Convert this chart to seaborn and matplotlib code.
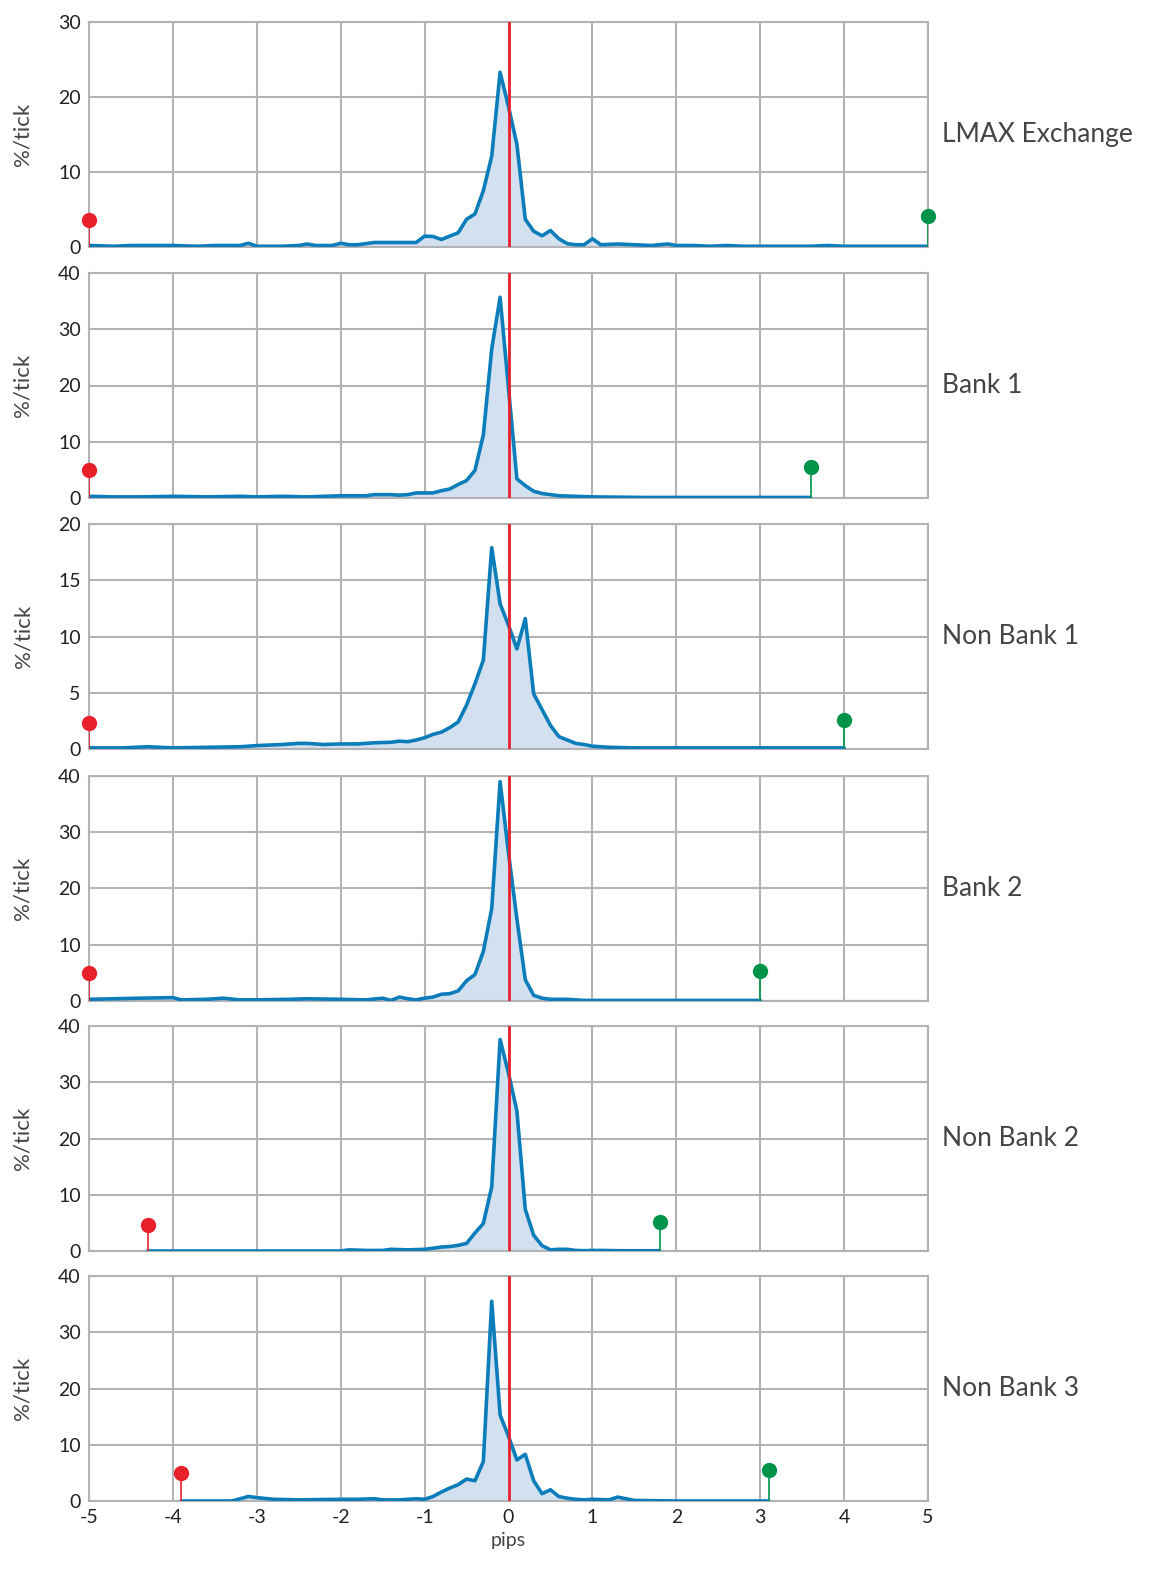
import numpy as np
import pandas as pd
import seaborn as sns
import matplotlib.pyplot as plt

sns.set_theme(style="white")
plt.rcParams['font.family'] = ['Lato', 'DejaVu Sans']
plt.rcParams['axes.unicode_minus'] = False

names = ["LMAX Exchange", "Bank 1", "Non Bank 1", "Bank 2", "Non Bank 2", "Non Bank 3"]
ymax = [30, 40, 20, 40, 40, 40]
ystep = [10, 10, 5, 10, 10, 10]

lmax_x = [-5, -4.7, -4.5, -4.2, -4, -3.7, -3.5, -3.2, -3.1, -3, -2.7, -2.5, -2.4, -2.3, -2.1, -2, -1.9, -1.8, -1.6, -1.4, -1.2, -1.1, -1.0, -0.9, -0.8, -0.7, -0.6, -0.5, -0.4, -0.3, -0.2, -0.1, 0, 0.1, 0.2, 0.3, 0.4, 0.5, 0.6, 0.7, 0.8, 0.9, 1.0, 1.1, 1.3, 1.5, 1.7, 1.9, 2.0, 2.2, 2.4, 2.6, 2.8, 3.0, 3.3, 3.6, 3.8, 4.0, 4.3, 4.6, 5.0]
lmax_y = [0.2, 0.1, 0.2, 0.2, 0.2, 0.1, 0.2, 0.2, 0.5, 0.1, 0.1, 0.2, 0.4, 0.2, 0.2, 0.5, 0.3, 0.3, 0.6, 0.6, 0.6, 0.6, 1.45, 1.4, 1.0, 1.45, 1.9, 3.7, 4.4, 7.5, 12.1, 23.3, 18.7, 13.7, 3.7, 2.1, 1.5, 2.2, 1.1, 0.45, 0.3, 0.3, 1.1, 0.3, 0.4, 0.3, 0.2, 0.4, 0.2, 0.2, 0.1, 0.2, 0.1, 0.1, 0.1, 0.1, 0.2, 0.1, 0.1, 0.1, 0.1]

b1_x = [-5, -4.7, -4.4, -4, -3.6, -3.2, -3.0, -2.7, -2.4, -2.0, -1.7, -1.6, -1.4, -1.3, -1.2, -1.1, -1.0, -0.9, -0.8, -0.7, -0.6, -0.5, -0.4, -0.3, -0.2, -0.1, 0, 0.1, 0.2, 0.3, 0.4, 0.5, 0.6, 0.8, 1.0, 1.3, 1.6, 2.0, 2.5, 3.0, 3.6]
b1_y = [0.3, 0.2, 0.2, 0.3, 0.2, 0.3, 0.2, 0.3, 0.2, 0.4, 0.4, 0.6, 0.6, 0.5, 0.6, 0.9, 0.9, 0.9, 1.3, 1.6, 2.4, 3.1, 4.9, 11.2, 26.5, 35.7, 19.5, 3.4, 2.2, 1.2, 0.8, 0.6, 0.4, 0.3, 0.2, 0.15, 0.1, 0.1, 0.1, 0.1, 0.1]

nb1_x = [-5, -4.6, -4.3, -4.0, -3.6, -3.2, -3.0, -2.7, -2.5, -2.4, -2.2, -2.0, -1.8, -1.6, -1.4, -1.3, -1.2, -1.1, -1.0, -0.9, -0.8, -0.7, -0.6, -0.5, -0.4, -0.3, -0.2, -0.1, 0, 0.1, 0.2, 0.3, 0.4, 0.5, 0.6, 0.7, 0.8, 0.9, 1.0, 1.2, 1.5, 2.0, 2.5, 3.0, 3.5, 4.0]
nb1_y = [0.1, 0.1, 0.2, 0.1, 0.15, 0.2, 0.3, 0.4, 0.5, 0.5, 0.4, 0.45, 0.45, 0.55, 0.6, 0.7, 0.65, 0.8, 1.0, 1.3, 1.5, 1.9, 2.4, 3.9, 5.8, 7.9, 17.9, 12.9, 11.0, 8.9, 11.6, 4.9, 3.5, 2.1, 1.1, 0.8, 0.5, 0.4, 0.25, 0.15, 0.1, 0.1, 0.1, 0.1, 0.1, 0.1]

b2_x = [-5, -4.7, -4.4, -4.0, -3.9, -3.6, -3.4, -3.2, -3.0, -2.6, -2.4, -2.0, -1.7, -1.5, -1.4, -1.3, -1.2, -1.1, -1.0, -0.9, -0.8, -0.7, -0.6, -0.5, -0.4, -0.3, -0.2, -0.1, 0, 0.1, 0.2, 0.3, 0.4, 0.5, 0.7, 0.9, 1.2, 1.6, 2.0, 2.5, 3.0]
b2_y = [0.3, 0.4, 0.5, 0.6, 0.2, 0.3, 0.5, 0.2, 0.2, 0.3, 0.4, 0.3, 0.2, 0.5, 0.1, 0.7, 0.4, 0.2, 0.5, 0.7, 1.2, 1.3, 1.8, 3.6, 4.7, 8.8, 16.4, 39.0, 26.3, 14.6, 3.8, 1.0, 0.5, 0.3, 0.3, 0.1, 0.1, 0.1, 0.1, 0.1, 0.1]

nb2_x = [-4.3, -3.5, -3.0, -2.5, -2.0, -1.9, -1.7, -1.5, -1.4, -1.2, -1.0, -0.9, -0.8, -0.7, -0.6, -0.5, -0.4, -0.3, -0.2, -0.1, 0, 0.1, 0.2, 0.3, 0.4, 0.5, 0.6, 0.7, 0.8, 0.9, 1.0, 1.1, 1.3, 1.5, 1.8]
nb2_y = [0.0, 0.0, 0.0, 0.0, 0.0, 0.2, 0.1, 0.1, 0.3, 0.2, 0.3, 0.5, 0.7, 0.8, 1.0, 1.35, 3.2, 4.9, 11.4, 37.6, 31.6, 24.9, 7.4, 2.8, 0.95, 0.2, 0.3, 0.3, 0.1, 0.05, 0.1, 0.1, 0.05, 0.05, 0.05]

nb3_x = [-3.9, -3.5, -3.3, -3.1, -3.0, -2.8, -2.5, -2.0, -1.8, -1.6, -1.5, -1.3, -1.1, -1.0, -0.9, -0.8, -0.7, -0.6, -0.5, -0.4, -0.3, -0.2, -0.1, 0, 0.1, 0.2, 0.3, 0.4, 0.5, 0.6, 0.7, 0.8, 0.9, 1.0, 1.2, 1.3, 1.4, 1.5, 2.0, 2.5, 3.1]
nb3_y = [0.0, 0.0, 0.0, 0.8, 0.6, 0.3, 0.2, 0.3, 0.3, 0.4, 0.2, 0.2, 0.4, 0.3, 0.8, 1.6, 2.3, 2.9, 3.9, 3.6, 7.0, 35.5, 15.3, 11.5, 7.3, 8.3, 3.6, 1.3, 2.0, 0.8, 0.5, 0.3, 0.2, 0.3, 0.2, 0.7, 0.4, 0.1, 0.0, 0.0, 0.0]

xs = [lmax_x, b1_x, nb1_x, b2_x, nb2_x, nb3_x]
ys = [lmax_y, b1_y, nb1_y, b2_y, nb2_y, nb3_y]

red_x = [-5, -5, -5, -5, -4.3, -3.9]
red_y = [3.6, 5.0, 2.3, 4.9, 4.6, 4.9]
green_x = [5, 3.6, 4.0, 3.0, 1.8, 3.1]
green_y = [4.1, 5.6, 2.6, 5.3, 5.2, 5.6]

fig = plt.figure(figsize=(11.68, 15.87), dpi=100)
W, H = 1168, 1587
left, right = 89 / W, 928 / W
tops = [22, 273, 524, 776, 1026, 1276]
ph = 225
grid_c = "#b3b3b7"
line_c = "#0a7dba"
fill_c = "#d3e0ef"

for i in range(6):
    ax = fig.add_axes([left, 1 - (tops[i] + ph) / H, right - left, ph / H])
    df = pd.DataFrame({"x": xs[i], "y": ys[i]})
    ax.fill_between(df["x"], 0, df["y"], color=fill_c, zorder=1)
    sns.lineplot(data=df, x="x", y="y", ax=ax, color=line_c, lw=2.6, zorder=3)
    ax.axvline(0, color="#e8202a", lw=2, zorder=4)
    for (px, py, c) in [(red_x[i], red_y[i], "#e8202a"), (green_x[i], green_y[i], "#00934a")]:
        ax.plot([px, px], [0, py], color=c, lw=1.2, zorder=5)
        ax.plot([px], [py], "o", color=c, ms=10, zorder=6, clip_on=False)
    ax.set_xlim(-5, 5)
    ax.set_ylim(0, ymax[i])
    ax.set_xticks(range(-5, 6))
    ax.set_yticks(np.arange(0, ymax[i] + 1, ystep[i]))
    ax.grid(True, color=grid_c, lw=1.5, zorder=0)
    ax.set_axisbelow(True)
    for s in ["top", "left", "right", "bottom"]:
        ax.spines[s].set_visible(True)
        ax.spines[s].set_color(grid_c)
        ax.spines[s].set_linewidth(1.5)
    ax.tick_params(axis="both", length=0, labelsize=14, colors="#222222", pad=6)
    ax.set_ylabel("%/tick", fontsize=16, color="#444444", labelpad=18)
    ax.set_xlabel("")
    if i < 5:
        ax.set_xticklabels([])
    else:
        ax.set_xlabel("pips", fontsize=14, color="#444444", labelpad=4)
    ax.text(1.017, 0.5, names[i], transform=ax.transAxes, fontsize=19,
            color="#444444", va="center", ha="left")

fig.savefig("out.png", dpi=100)
